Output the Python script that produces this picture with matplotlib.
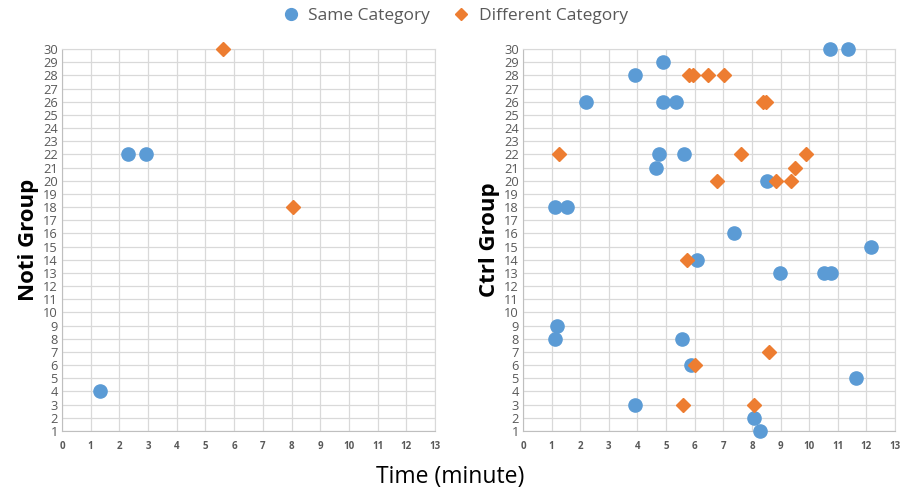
import matplotlib.pyplot as plt
from matplotlib.lines import Line2D

# Noti group
noti_same_x = [2.31, 2.92, 1.34]
noti_same_y = [22, 22, 4]
noti_diff_x = [5.61, 8.05]
noti_diff_y = [30, 18]

# Ctrl group
ctrl_same_x = [10.74, 11.36, 4.90, 3.90, 2.20, 4.88, 5.36, 4.74, 5.64, 4.64, 8.53,
               1.13, 1.55, 7.37, 12.16, 6.09, 8.97, 10.51, 10.77, 1.20, 1.13, 5.56,
               5.87, 11.63, 3.93, 8.06, 8.28]
ctrl_same_y = [30, 30, 29, 28, 26, 26, 26, 22, 22, 21, 20,
               18, 18, 16, 15, 14, 13, 13, 13, 9, 8, 8,
               6, 5, 3, 2, 1]
ctrl_diff_x = [5.80, 5.95, 6.47, 7.03, 8.40, 8.48, 1.27, 7.62, 9.88, 9.49, 6.78,
               8.85, 9.35, 5.73, 8.59, 6.01, 5.60, 8.06]
ctrl_diff_y = [28, 28, 28, 28, 26, 26, 22, 22, 22, 21, 20,
               20, 20, 14, 7, 6, 3, 3]

blue = '#5B9BD5'
orange = '#ED7D31'
grid_c = '#D9D9D9'
tick_c = '#595959'

plt.rcParams['font.family'] = ['Open Sans', 'DejaVu Sans']

fig = plt.figure(figsize=(9.01, 4.95), dpi=100)
ax1 = fig.add_axes([0.0688, 0.1293, 0.414, 0.7717])
ax2 = fig.add_axes([0.5805, 0.1293, 0.4129, 0.7717])


def style(ax, label):
    ax.set_xlim(0, 13)
    ax.set_ylim(1, 30)
    ax.set_xticks(range(0, 14))
    ax.set_yticks(range(1, 31))
    ax.grid(True, color=grid_c, linewidth=0.9)
    ax.set_axisbelow(True)
    for s in ax.spines.values():
        s.set_color(grid_c)
    ax.spines['left'].set_color('#BFBFBF')
    ax.spines['bottom'].set_color('#BFBFBF')
    ax.tick_params(length=0)
    ax.tick_params(axis='y', labelsize=9.3, labelcolor=tick_c, pad=3)
    ax.tick_params(axis='x', labelsize=7, labelcolor=tick_c, pad=7)
    for t in ax.get_xticklabels():
        t.set_fontweight('bold')
    ax.set_ylabel(label, fontsize=16, fontweight='bold', labelpad=3)


ax1.plot(noti_same_x, noti_same_y, 'o', color=blue, markersize=9.5, zorder=3)
ax1.plot(noti_diff_x, noti_diff_y, 'D', color=orange, markersize=7, zorder=3)
style(ax1, 'Noti Group')

ax2.plot(ctrl_same_x, ctrl_same_y, 'o', color=blue, markersize=9.5, zorder=3)
ax2.plot(ctrl_diff_x, ctrl_diff_y, 'D', color=orange, markersize=7, zorder=3)
style(ax2, 'Ctrl Group')

for ax in (ax1, ax2):
    for l in ax.lines:
        l.set_clip_on(False)

fig.text(0.5, 0.025, 'Time (minute)', ha='center', fontsize=16.5)

handles = [Line2D([], [], marker='o', color=blue, linestyle='none', markersize=8.5),
           Line2D([], [], marker='D', color=orange, linestyle='none', markersize=6)]
fig.legend(handles, ['Same Category', 'Different Category'], loc='upper center',
           bbox_to_anchor=(0.5, 1.015), ncol=2, frameon=False, fontsize=12.5,
           handletextpad=0.0, columnspacing=0.8, labelcolor=tick_c)

fig.savefig('out.png', dpi=100)
